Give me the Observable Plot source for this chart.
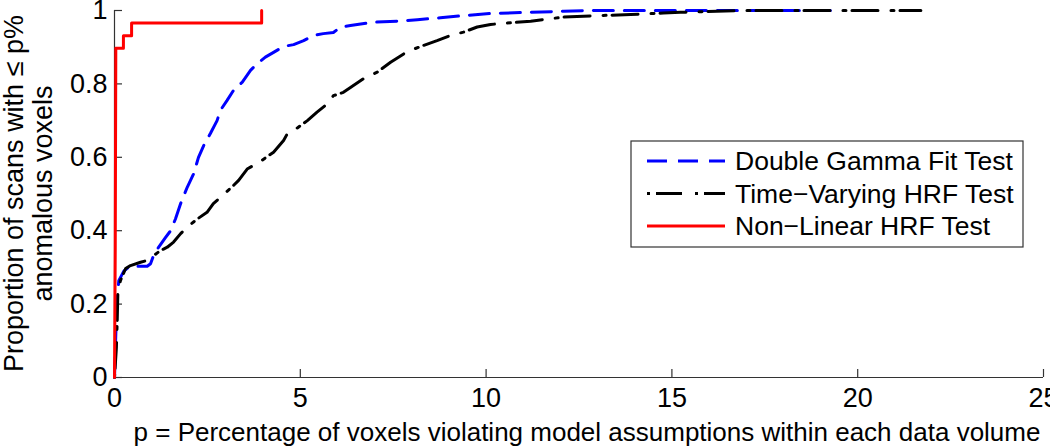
<!DOCTYPE html>
<html><head><meta charset="utf-8">
<script src="https://cdn.jsdelivr.net/npm/d3@7"></script>
<script src="https://cdn.jsdelivr.net/npm/@observablehq/plot@0.6"></script>
<style>
body{margin:0;background:#fff;}
#chart svg{display:block;}
</style></head><body><div id="chart"></div>
<script>
const seriesNames = ["Double Gamma Fit Test", "Time\u2212Varying HRF Test", "Non\u2212Linear HRF Test"];
const seriesColors = ["#0000ff", "#000000", "#ff0000"];
const seriesDash = ["20,11", "3,6,26,13", null];

const doubleGammaP = [0,0.03,0.06,0.116,0.25,0.43,0.61,0.88,0.97,1.05,1.18,1.37,1.51,1.64,1.78,1.96,2.13,2.26,2.40,2.58,2.76,2.85,3.03,3.20,3.44,3.66,3.84,4.06,4.28,4.55,4.82,5.09,5.36,5.62,5.89,6.08,6.35,6.97,7.61,8.15,8.77,9.39,10.12,11.2,12.08,13.0,19.5];
const doubleGammaProp = [0,0.1,0.2,0.264,0.29,0.305,0.303,0.303,0.31,0.332,0.354,0.381,0.40,0.432,0.474,0.519,0.555,0.60,0.632,0.665,0.70,0.728,0.755,0.782,0.805,0.837,0.855,0.873,0.886,0.902,0.907,0.918,0.932,0.937,0.94,0.955,0.959,0.968,0.971,0.975,0.98,0.986,0.992,0.995,0.998,1.0,1.0];

const timeVaryingP = [0,0.05,0.073,0.09,0.16,0.30,0.43,0.70,0.88,1.05,1.24,1.42,1.59,1.78,1.96,2.23,2.49,2.66,2.93,3.20,3.34,3.57,3.93,4.28,4.55,4.65,4.92,5.19,5.45,5.72,5.89,6.16,6.35,6.7,7.07,7.43,7.88,8.32,8.68,9.04,9.39,9.76,10.12,11.2,12.08,13.0,13.89,14.77,15.23,17.0,21.7];
const timeVaryingProp = [0,0.08,0.155,0.229,0.264,0.297,0.305,0.314,0.319,0.332,0.346,0.355,0.369,0.392,0.41,0.432,0.45,0.474,0.498,0.523,0.537,0.568,0.589,0.614,0.646,0.664,0.68,0.70,0.723,0.745,0.768,0.777,0.79,0.814,0.832,0.859,0.888,0.905,0.918,0.932,0.941,0.955,0.962,0.971,0.982,0.986,0.989,0.993,0.995,1.0,1.0];

const nonLinearP = [0,0.02,0.035,0.24,0.24,0.46,0.46,3.96,3.96];
const nonLinearProp = [0,0.35,0.897,0.897,0.931,0.931,0.966,0.966,1.0];

const xTicks = [0,5,10,15,20,25];
const yTicks = [0,0.2,0.4,0.6,0.8,1];
const yTickLabels = ["0","0.2","0.4","0.6","0.8","1"];
const xLabel = "p = Percentage of voxels violating model assumptions within each data volume";
const yLabelLines = ["Proportion of scans with \u2264 p%", "anomalous voxels"];

function rows(ps, vs, name) { return ps.map((p, i) => ({p, prop: vs[i], series: name})); }
const data = [
  rows(doubleGammaP, doubleGammaProp, seriesNames[0]),
  rows(timeVaryingP, timeVaryingProp, seriesNames[1]),
  rows(nonLinearP, nonLinearProp, seriesNames[2])
];

const W = 1050, H = 448, mL = 114, mR = 7, mT = 10, mB = 71, tickLen = 8;
const font = "'Liberation Sans', Arial, Helvetica, sans-serif";
const plot = Plot.plot({
  width: W, height: H,
  marginLeft: mL, marginRight: mR, marginTop: mT, marginBottom: mB,
  style: {fontFamily: font, fontSize: "27px", background: "#fff", color: "#000", overflow: "visible"},
  x: {domain: [0, 25]},
  y: {domain: [0, 1]},
  marks: [
    Plot.tickX(xTicks, {x: (d) => d, insetTop: (H - mT - mB) - tickLen, stroke: "#333", strokeWidth: 1.2}),
    Plot.tickY(yTicks, {y: (d) => d, insetRight: (W - mL - mR) - tickLen, stroke: "#333", strokeWidth: 1.2}),
    Plot.ruleX([0], {stroke: "#333", strokeWidth: 1.2}),
    Plot.ruleY([0], {stroke: "#333", strokeWidth: 1.2}),
    Plot.axisX({ticks: xTicks, tickSize: 0, tickPadding: 10, label: null, fontSize: 27}),
    Plot.axisY({ticks: yTicks, tickFormat: (d) => yTickLabels[yTicks.indexOf(d)], tickSize: 0, tickPadding: 7, label: null, fontSize: 27}),
    ...data.map((d, i) => Plot.line(d, {x: "p", y: "prop", stroke: seriesColors[i], strokeWidth: 3, strokeDasharray: seriesDash[i]}))
  ]
});
document.getElementById("chart").appendChild(plot);

const svg = d3.select(plot);
// axis titles
svg.append("text").attr("x", 587).attr("y", 441).attr("text-anchor", "middle")
  .attr("font-family", font).attr("font-size", 26).attr("fill", "#000").text(xLabel);
const yl = svg.append("g").attr("font-family", font).attr("font-size", 27).attr("fill", "#000");
[13.5, 42.5].forEach((cx, i) => {
  yl.append("text").attr("transform", `translate(${cx},193.5) rotate(-90)`)
    .attr("text-anchor", "middle").attr("dy", "0.35em").text(yLabelLines[i]);
});

// legend
const lg = svg.append("g").attr("font-family", font).attr("font-size", 26.5);
lg.append("rect").attr("x", 631).attr("y", 141).attr("width", 392).attr("height", 106)
  .attr("fill", "#fff").attr("stroke", "#333").attr("stroke-width", 1.2);
seriesNames.forEach((name, i) => {
  const y = 161 + i * 32.5;
  lg.append("line").attr("x1", 647).attr("x2", 725).attr("y1", y).attr("y2", y)
    .attr("stroke", seriesColors[i]).attr("stroke-width", 3)
    .attr("stroke-dasharray", seriesDash[i]);
  lg.append("text").attr("x", 735).attr("y", y).attr("dy", "0.35em").attr("text-anchor", "start")
    .attr("fill", "#000").text(name);
});
</script></body></html>
